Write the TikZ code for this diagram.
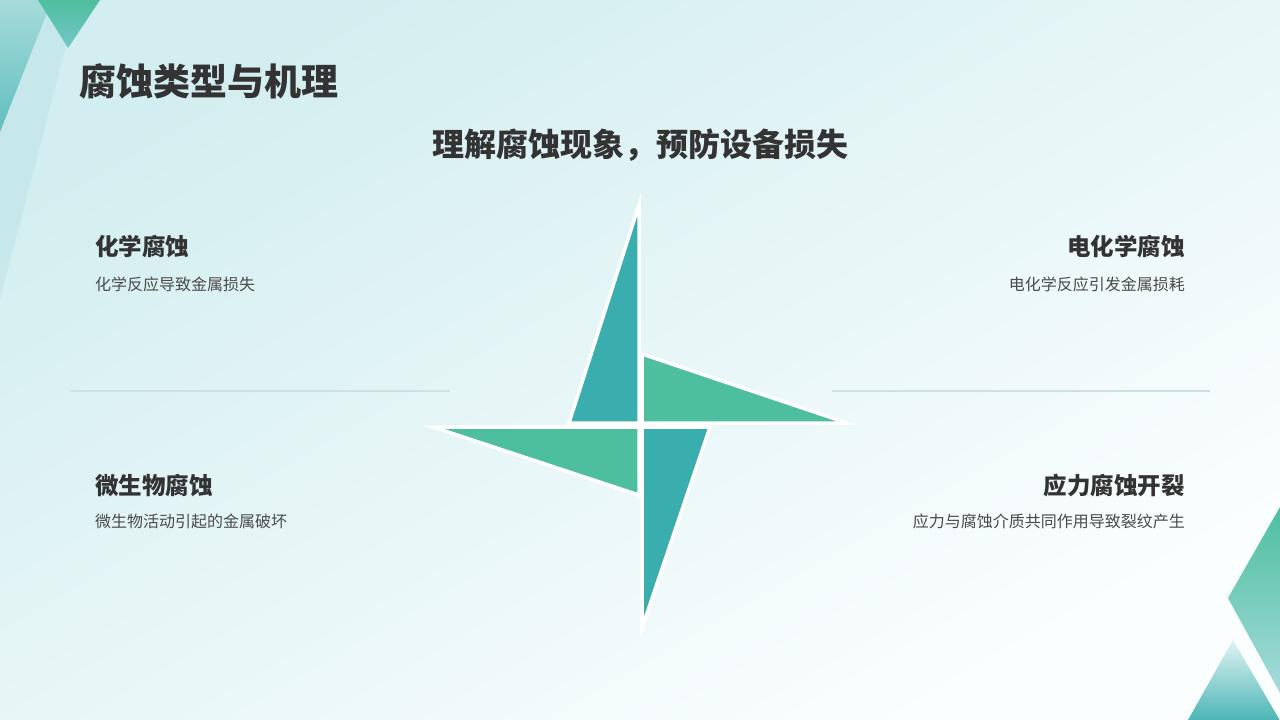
\documentclass[tikz,border=0pt]{standalone}
\usepackage{fontspec}
\setmainfont{Noto Sans CJK SC}
\newfontfamily\cjk{Noto Sans CJK SC}
\definecolor{bgA}{HTML}{D3EEF0}
\definecolor{bgB}{HTML}{FBFEFE}
\definecolor{tealP}{HTML}{3AAEAE}
\definecolor{greenP}{HTML}{4DBF9F}
\definecolor{headC}{HTML}{333333}
\definecolor{bodyC}{HTML}{4A4A4A}
\definecolor{lineC}{HTML}{CFE0E5}
\tikzset{
  blade/.style={draw=white, line width=3.5pt, line join=miter, miter limit=8},
  headtxt/.style={font=\cjk\bfseries\fontsize{23.5}{28}\selectfont, text=headC, inner sep=0pt},
  bodytxt/.style={font=\cjk\fontsize{16}{19}\selectfont, text=bodyC, inner sep=0pt},
  sepline/.style={draw=lineC, line width=1.2pt}
}
\begin{document}
\begin{tikzpicture}[x=1pt,y=-1pt]
\useasboundingbox (0,0) rectangle (1280,720);
% background
\shade[top color=bgA, bottom color=bgB, shading angle=30] (0,0) rectangle (1280,720);
% top-left decorations
\fill[tealP, opacity=0.08] (0,0) -- (78,0) -- (0,300) -- cycle;
\shade[top color=tealP!45, bottom color=tealP!80] (0,0) -- (52,0) -- (0,132) -- cycle;
\shade[top color=greenP, bottom color=tealP!70] (38,0) -- (100,0) -- (68,48) -- cycle;
% bottom-right decorations
\shade[top color=greenP, bottom color=tealP!45] (1280,507) -- (1228,598) -- (1280,693) -- cycle;
\shade[top color=tealP!15, bottom color=tealP!95] (1233,640) -- (1188,720) -- (1282,720) -- (1282,724) -- cycle;
% title & subtitle
\node[font=\cjk\bfseries\fontsize{37}{42}\selectfont, text=headC, anchor=west, inner sep=0pt] (title) at (79,82) {腐蚀类型与机理};
\node[font=\cjk\bfseries\fontsize{32}{38}\selectfont, text=headC, inner sep=0pt] (subtitle) at (640,145) {理解腐蚀现象，预防设备损失};
% separator lines
\draw[sepline] (70,391) -- (450,391);
\draw[sepline] (832,391) -- (1210,391);
% pinwheel
\fill[tealP, blade] (639,205) -- (569,423) -- (639,423) -- cycle;
\fill[greenP, blade] (642,354) -- (847,423) -- (642,423) -- cycle;
\fill[greenP, blade] (433,427) -- (639,427) -- (639,495) -- cycle;
\fill[tealP, blade] (642,427) -- (710,427) -- (642,628) -- cycle;
% quadrant texts
\node[headtxt, anchor=west] (h1) at (95,247) {化学腐蚀};
\node[bodytxt, anchor=west] (b1) at (95,284) {化学反应导致金属损失};
\node[headtxt, anchor=east] (h2) at (1185,247) {电化学腐蚀};
\node[bodytxt, anchor=east] (b2) at (1185,284) {电化学反应引发金属损耗};
\node[headtxt, anchor=west] (h3) at (95,486) {微生物腐蚀};
\node[bodytxt, anchor=west] (b3) at (95,521) {微生物活动引起的金属破坏};
\node[headtxt, anchor=east] (h4) at (1185,486) {应力腐蚀开裂};
\node[bodytxt, anchor=east] (b4) at (1185,521) {应力与腐蚀介质共同作用导致裂纹产生};
\end{tikzpicture}
\end{document}
